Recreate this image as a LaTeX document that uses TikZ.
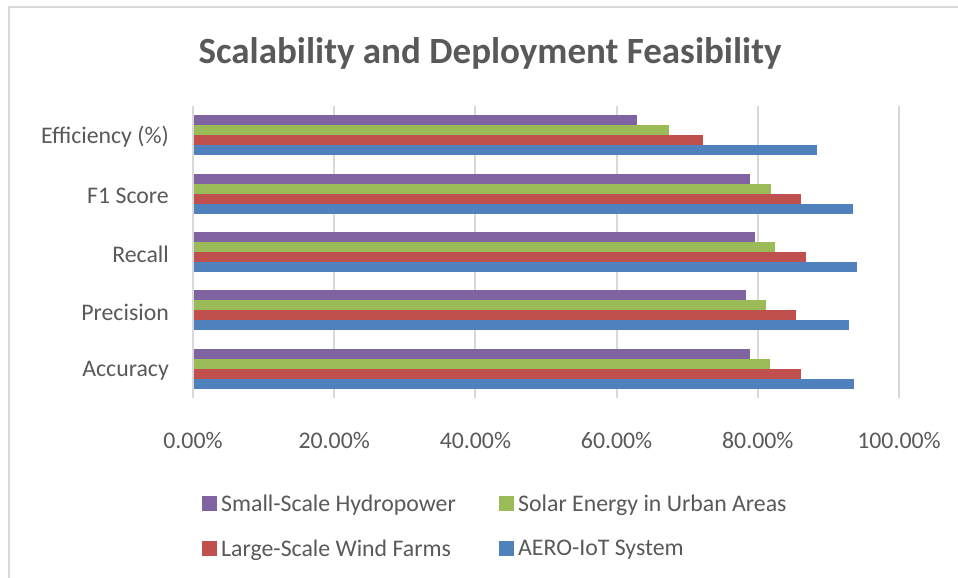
\documentclass[tikz,border=0pt]{standalone}
\usepackage{fontspec}
\setmainfont{Carlito}
\definecolor{cpur}{HTML}{8064A2}
\definecolor{cgrn}{HTML}{9BBB59}
\definecolor{cred}{HTML}{C0504D}
\definecolor{cblu}{HTML}{4F81BD}
\definecolor{tgray}{HTML}{595959}
\definecolor{gridc}{HTML}{D9D9D9}
\begin{document}
\begin{tikzpicture}[x=1pt,y=-1pt,
  txt/.style={text=tgray,font=\fontsize{23.8}{28}\selectfont,inner sep=0pt},
  gridline/.style={draw=gridc,line width=2pt},
  legsq/.style={minimum width=15pt,minimum height=15pt,inner sep=0pt,anchor=west}]
\useasboundingbox (0,0) rectangle (958,578);
\fill[white] (0,0) rectangle (958,578);
% chart frame
\draw[gridc,line width=2pt] (9,578) -- (9,7) -- (958,7);
% title
\node[text=tgray,font=\fontsize{37}{44}\selectfont\bfseries,inner sep=0pt] (title) at (490,53.5) {Scalability and Deployment Feasibility};
% gridlines
\foreach \i in {1,...,5} \draw[gridline] ({193+141.2*\i},106) -- ({193+141.2*\i},398);
% bars
\foreach \k/\p/\g/\r/\b in {0/62.85/67.4/72.3/88.4, 1/78.9/81.8/86.1/93.5, 2/79.6/82.5/86.8/94.1, 3/78.3/81.2/85.4/92.9, 4/78.9/81.7/86.1/93.6}{
  \fill[cpur] (194,{135.2+58.4*\k-20}) rectangle ({193+7.06*\p},{135.2+58.4*\k-10});
  \fill[cgrn] (194,{135.2+58.4*\k-10}) rectangle ({193+7.06*\g},{135.2+58.4*\k});
  \fill[cred] (194,{135.2+58.4*\k}) rectangle ({193+7.06*\r},{135.2+58.4*\k+10});
  \fill[cblu] (194,{135.2+58.4*\k+10}) rectangle ({193+7.06*\b},{135.2+58.4*\k+20});
}
% axis line
\draw[gridline] (193,106) -- (193,398);
% category labels
\node[txt,anchor=east] (c1) at (169,137.2) {Efficiency (\%)};
\node[txt,anchor=east] (c2) at (169,195.6) {F1 Score};
\node[txt,anchor=east] (c3) at (169,254.0) {Recall};
\node[txt,anchor=east] (c4) at (169,312.4) {Precision};
\node[txt,anchor=east] (c5) at (169,370.8) {Accuracy};
% tick labels
\foreach \v [count=\i from 0] in {0.00\%,20.00\%,40.00\%,60.00\%,80.00\%,100.00\%}
  \node[txt] (t\i) at ({193+141.2*\i},440) {\v};
% legend
\node[legsq,fill=cpur] (l1) at (202,503) {};
\node[txt,anchor=west] (l1t) at (221,505) {Small-Scale Hydropower};
\node[legsq,fill=cgrn] (l2) at (499,503) {};
\node[txt,anchor=west] (l2t) at (518,505) {Solar Energy in Urban Areas};
\node[legsq,fill=cred] (l3) at (202,548) {};
\node[txt,anchor=west] (l3t) at (221,550) {Large-Scale Wind Farms};
\node[legsq,fill=cblu] (l4) at (499,548) {};
\node[txt,anchor=west] (l4t) at (518,550) {AERO-IoT System};
\end{tikzpicture}
\end{document}
